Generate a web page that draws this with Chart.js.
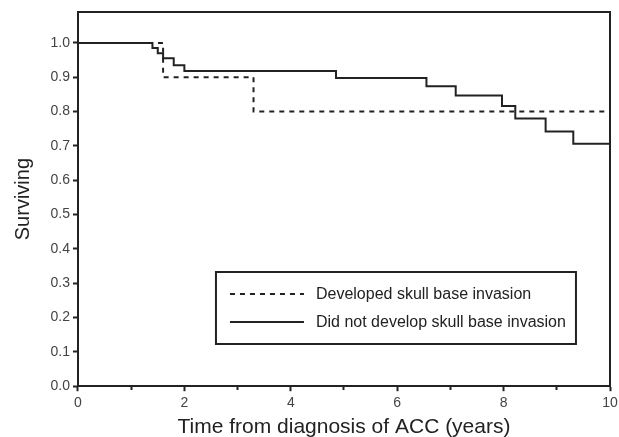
<!DOCTYPE html>
<html>
<head>
<meta charset="utf-8">
<script src="https://cdn.jsdelivr.net/npm/chart.js@4"></script>
<style>
    html, body { margin: 0; padding: 0; background: #fff; }
    #wrap { width: 619px; height: 437px; }
</style>
</head>
<body>
<div id="wrap"><canvas id="myChart"></canvas></div>
<script>
// Kaplan-Meier steps: time (years) where the curve drops, and the new value
const devTimes = [0, 1.6, 3.3, 10];
const devSurv = [1.0, 0.9, 0.8, 0.8];

const notTimes = [0, 1.4, 1.5, 1.6, 1.8, 2.0, 4.85, 6.55, 7.1, 7.97, 8.22, 8.79, 9.31, 10];
const notSurv = [1.0, 0.985, 0.97, 0.955, 0.935, 0.918, 0.898, 0.874, 0.847, 0.816, 0.78, 0.742, 0.706, 0.706];

const seriesLabels = ["Developed skull base invasion", "Did not develop skull base invasion"];
const xTitle = "Time from diagnosis of ACC (years)";
const yTitle = "Surviving";

const ink = "#222";
const font = "'Liberation Sans', Arial, Helvetica, sans-serif";

function toPoints(times, values) {
    return times.map((t, i) => ({ x: t, y: values[i] }));
}

// top and right edges of the plot frame
const framePlugin = {
    id: "frame",
    afterDraw(chart) {
        const { ctx, chartArea: a } = chart;
        ctx.save();
        ctx.strokeStyle = ink;
        ctx.lineWidth = 2;
        ctx.beginPath();
        ctx.moveTo(a.left, a.top);
        ctx.lineTo(a.right, a.top);
        ctx.lineTo(a.right, a.bottom);
        ctx.stroke();
        ctx.restore();
    },
};

// boxed legend sitting inside the plot area
const boxLegend = {
    id: "boxLegend",
    afterDraw(chart) {
        const { ctx, chartArea: a } = chart;
        const left = a.left + 138;
        const top = a.top + 260;
        const w = 360;
        const h = 72;
        ctx.save();
        ctx.strokeStyle = ink;
        ctx.lineWidth = 2;
        ctx.strokeRect(left, top, w, h);
        ctx.font = `16px ${font}`;
        ctx.textBaseline = "middle";
        chart.data.datasets.forEach((ds, i) => {
            const y = top + 22 + i * 28;
            ctx.beginPath();
            ctx.setLineDash(ds.borderDash || []);
            ctx.lineWidth = ds.borderWidth;
            ctx.strokeStyle = ds.borderColor;
            ctx.moveTo(left + 14, y);
            ctx.lineTo(left + 88, y);
            ctx.stroke();
            ctx.setLineDash([]);
            ctx.fillStyle = ink;
            ctx.fillText(ds.label, left + 100, y + 1);
        });
        ctx.restore();
    },
};

function main() {
    const ctx = document.getElementById("myChart");

    new Chart(ctx, {
        type: "line",
        data: {
            datasets: [
                {
                    label: seriesLabels[0],
                    data: toPoints(devTimes, devSurv),
                    stepped: true,
                    borderColor: ink,
                    borderWidth: 2,
                    borderDash: [5, 5],
                    pointRadius: 0,
                },
                {
                    label: seriesLabels[1],
                    data: toPoints(notTimes, notSurv),
                    stepped: true,
                    borderColor: ink,
                    borderWidth: 2,
                    pointRadius: 0,
                },
            ],
        },
        options: {
            responsive: true,
            maintainAspectRatio: false,
            animation: false,
            layout: {
                padding: { top: 12, right: 9, left: 11.5, bottom: -1 },
            },
            plugins: {
                legend: { display: false },
                tooltip: { enabled: false },
            },
            scales: {
                x: {
                    type: "linear",
                    min: 0,
                    max: 10,
                    border: { color: ink, width: 2 },
                    afterFit: (s) => {
                        s.paddingRight = 0;
                    },
                    grid: {
                        drawOnChartArea: false,
                        tickLength: 5,
                        tickWidth: 2,
                        tickColor: ink,
                        tickBorderDash: (c) => (c.tick && c.tick.value % 2 !== 0 ? [3, 20] : []),
                    },
                    ticks: {
                        stepSize: 1,
                        autoSkip: false,
                        maxRotation: 0,
                        color: "#444",
                        padding: 4,
                        font: { family: font, size: 14 },
                        callback: (v) => (v % 2 === 0 ? v : ""),
                    },
                    title: {
                        display: true,
                        text: xTitle,
                        color: ink,
                        font: { family: font, size: 21, lineHeight: 1.0 },
                        padding: { top: 1, bottom: 0 },
                    },
                },
                y: {
                    min: 0,
                    max: 1.09,
                    border: { color: ink, width: 2 },
                    afterBuildTicks: (s) => {
                        s.ticks = s.ticks.filter((t) => t.value <= 1.0001);
                    },
                    grid: {
                        drawOnChartArea: false,
                        tickLength: 5,
                        tickWidth: 2,
                        tickColor: ink,
                    },
                    ticks: {
                        stepSize: 0.1,
                        color: "#444",
                        padding: 3,
                        font: { family: font, size: 14 },
                        callback: (v) => v.toFixed(1),
                    },
                    title: {
                        display: true,
                        text: yTitle,
                        color: ink,
                        font: { family: font, size: 20 },
                        padding: { top: 0, bottom: 12 },
                    },
                },
            },
        },
        plugins: [framePlugin, boxLegend],
    });
}

main();
</script>
</body>
</html>
